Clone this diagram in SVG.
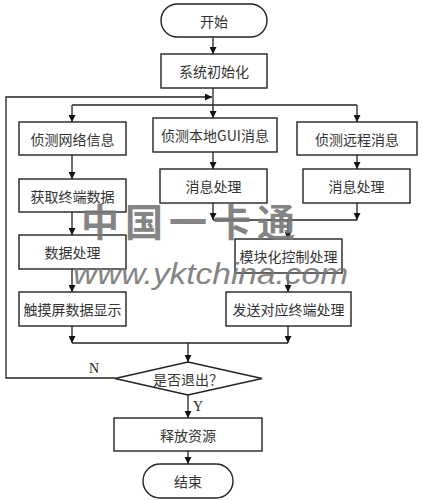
<svg xmlns="http://www.w3.org/2000/svg" width="422" height="500" viewBox="0 0 422 500">
<style>
.box{fill:#fff;stroke:#222;stroke-width:1.4}
.t{font-family:"Noto Sans CJK SC","Noto Sans",sans-serif;font-size:14px;fill:#333;text-anchor:middle;dominant-baseline:central}
.l{font-family:"Liberation Serif",serif;font-size:14px;fill:#222;text-anchor:middle;dominant-baseline:central}
.c{fill:none;stroke:#222;stroke-width:1.3}
.a{fill:none;stroke:#222;stroke-width:1.3;marker-end:url(#ah)}
.wm{fill:#777;opacity:0.9}
</style>
<defs>
<marker id="ah" viewBox="0 0 10 10" refX="10" refY="5" markerWidth="7" markerHeight="7" markerUnits="userSpaceOnUse" orient="auto">
<path d="M0,0 L10,5 L0,10 z" fill="#111"/>
</marker>
</defs>
<rect width="422" height="500" fill="#fff"/>
<g id="connectors">
<line class="a" x1="213" y1="37" x2="213" y2="54"/>
<line class="a" x1="213" y1="88" x2="213" y2="118"/>
<polyline class="a" points="115,378 6,378 6,97 212,97"/>
<line class="c" x1="72" y1="105" x2="357" y2="105"/>
<line class="a" x1="72" y1="105" x2="72" y2="122"/>
<line class="a" x1="357" y1="105" x2="357" y2="122"/>
<line class="a" x1="72" y1="155" x2="72" y2="179"/>
<line class="a" x1="72" y1="212" x2="72" y2="235"/>
<line class="a" x1="72" y1="269" x2="72" y2="292"/>
<line class="a" x1="72" y1="326" x2="72" y2="343"/>
<line class="a" x1="213" y1="152" x2="213" y2="169"/>
<line class="a" x1="357" y1="155" x2="357" y2="169"/>
<line class="a" x1="213" y1="203" x2="213" y2="220"/>
<line class="a" x1="357" y1="203" x2="357" y2="220"/>
<line class="c" x1="213" y1="220" x2="357" y2="220"/>
<line class="a" x1="288" y1="220" x2="288" y2="239"/>
<line class="a" x1="288" y1="273" x2="288" y2="292"/>
<line class="a" x1="288" y1="326" x2="288" y2="343"/>
<line class="c" x1="72" y1="343" x2="288" y2="343"/>
<line class="a" x1="188" y1="343" x2="188" y2="362"/>
<line class="a" x1="188" y1="395" x2="188" y2="418"/>
<line class="a" x1="188" y1="451" x2="188" y2="464"/>
<text class="l" x="94" y="368">N</text>
<text class="l" x="198" y="406">Y</text>
</g>
<g id="start"><rect class="box" x="161" y="4" width="106" height="33" rx="16.5"/><text class="t" x="214" y="20.5">开始</text></g>
<g id="init"><rect class="box" x="161" y="54" width="106" height="34"/><text class="t" x="214" y="71">系统初始化</text></g>
<g id="net"><rect class="box" x="19" y="122" width="107" height="33"/><text class="t" x="72.5" y="138.5">侦测网络信息</text></g>
<g id="gui"><rect class="box" x="153" y="118" width="124" height="34"/><text class="t" x="215" y="135">侦测本地GUI消息</text></g>
<g id="remote"><rect class="box" x="297" y="122" width="120" height="33"/><text class="t" x="357" y="138.5">侦测远程消息</text></g>
<g id="getdata"><rect class="box" x="19" y="179" width="107" height="33"/><text class="t" x="72.5" y="195.5">获取终端数据</text></g>
<g id="msg1"><rect class="box" x="160" y="169" width="107" height="34"/><text class="t" x="213.5" y="186">消息处理</text></g>
<g id="msg2"><rect class="box" x="303" y="169" width="107" height="34"/><text class="t" x="356.5" y="186">消息处理</text></g>
<g id="proc"><rect class="box" x="19" y="235" width="107" height="34"/><text class="t" x="72.5" y="252">数据处理</text></g>
<g id="module"><rect class="box" x="235" y="239" width="107" height="34"/><text class="t" x="288.5" y="256">模块化控制处理</text></g>
<g id="touch"><rect class="box" x="19" y="292" width="107" height="34"/><text class="t" x="72.5" y="309">触摸屏数据显示</text></g>
<g id="send"><rect class="box" x="226" y="292" width="125" height="34"/><text class="t" x="288.5" y="309">发送对应终端处理</text></g>
<g id="quit"><polygon class="box" points="188,362 262,378.5 188,395 115,378.5"/><text class="t" x="188" y="378.5">是否退出？</text></g>
<g id="release"><rect class="box" x="114" y="418" width="148" height="33"/><text class="t" x="188" y="434.5">释放资源</text></g>
<g id="end"><rect class="box" x="143" y="464" width="90" height="34" rx="17"/><text class="t" x="188" y="481">结束</text></g>
<g id="watermark">
<text class="wm" x="191" y="236" text-anchor="middle" font-family="Noto Sans CJK SC, sans-serif" font-size="38" font-weight="bold" letter-spacing="6">中国一卡通</text>
<text class="wm" x="73" y="284" font-family="Liberation Sans, sans-serif" font-size="30" font-style="italic" textLength="275" lengthAdjust="spacingAndGlyphs">www.yktchina.com</text>
</g>
</svg>
